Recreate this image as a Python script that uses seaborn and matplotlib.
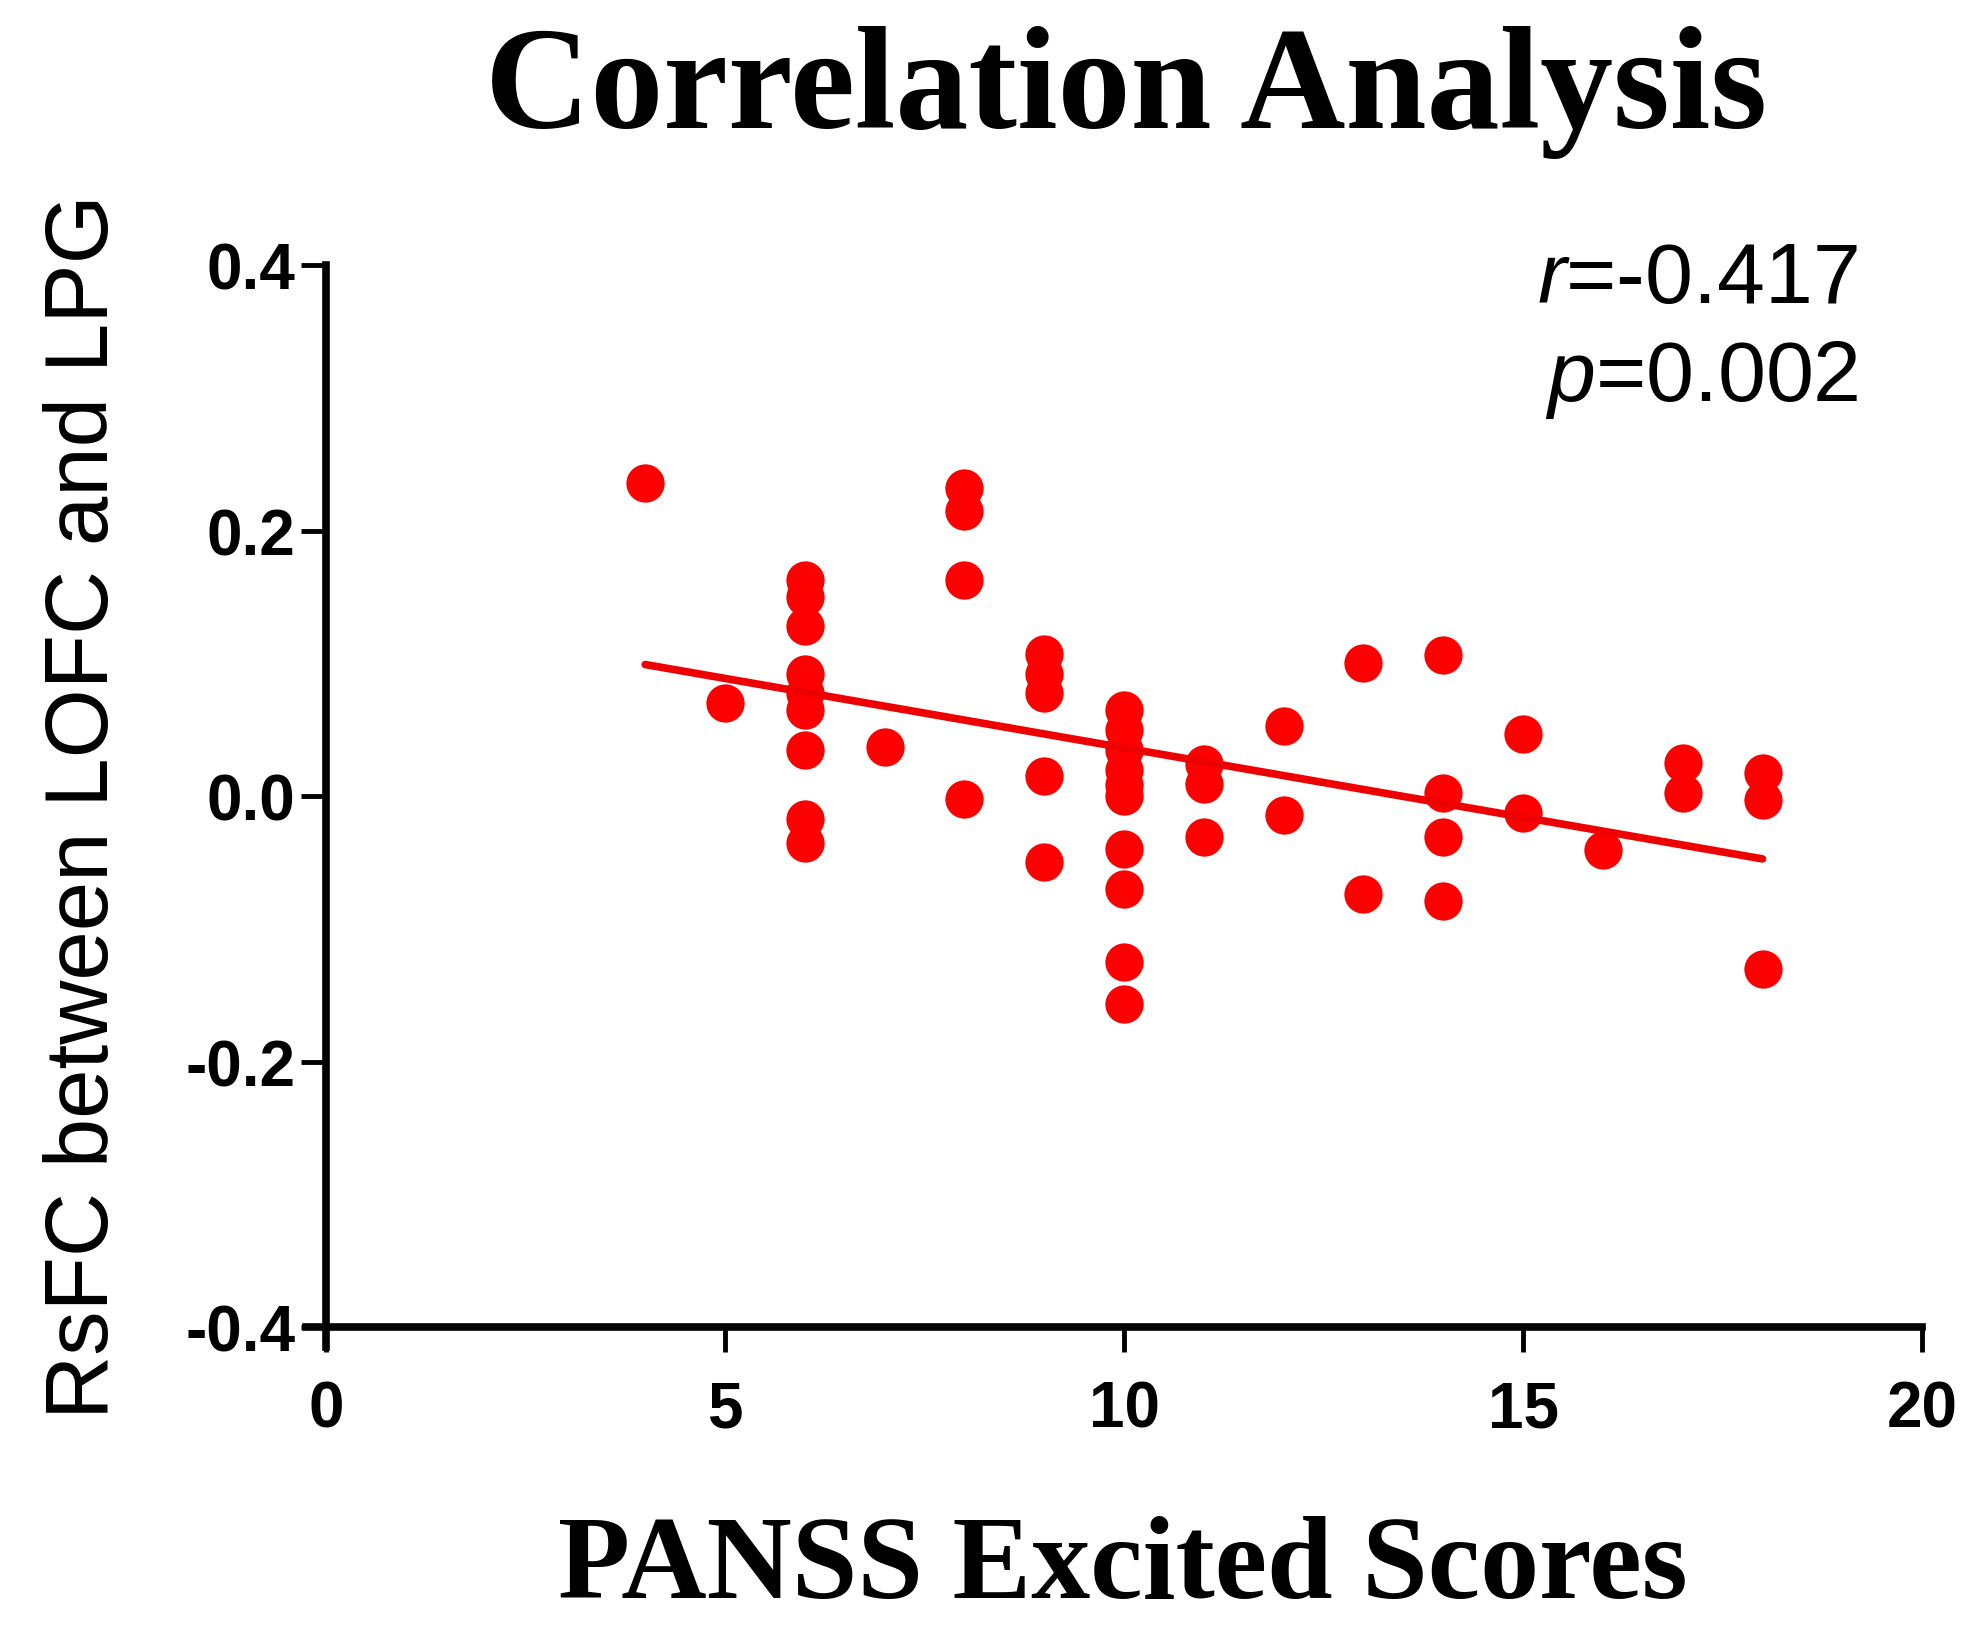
import pandas as pd
import matplotlib
matplotlib.use("Agg")
import matplotlib.pyplot as plt
import seaborn as sns

# PANSS excited scores and RsFC values
scores = [4,
          5,
          6, 6, 6, 6, 6, 6, 6, 6, 6,
          7,
          8, 8, 8, 8,
          9, 9, 9, 9, 9,
          10, 10, 10, 10, 10, 10, 10, 10, 10, 10,
          11, 11, 11,
          12, 12,
          13, 13,
          14, 14, 14, 14,
          15, 15,
          16,
          17, 17,
          18, 18, 18]
rsfc = [0.236,
        0.070,
        0.163, 0.150, 0.128, 0.092, 0.078, 0.065, 0.035, -0.017, -0.035,
        0.037,
        0.232, 0.215, 0.163, -0.002,
        0.107, 0.092, 0.078, 0.015, -0.050,
        0.065, 0.050, 0.035, 0.020, 0.008, 0.000, -0.040, -0.070, -0.125, -0.157,
        0.024, 0.009, -0.031,
        0.053, -0.014,
        0.100, -0.074,
        0.106, 0.002, -0.031, -0.079,
        0.047, -0.013,
        -0.041,
        0.025, 0.002,
        0.017, -0.003, -0.130]

xticks = [0, 5, 10, 15, 20]
yticks = [-0.4, -0.2, 0.0, 0.2, 0.4]

data = pd.DataFrame({"score": scores, "rsfc": rsfc})

sns.set_style("ticks")
plt.rcParams['font.family'] = ['Liberation Sans', 'DejaVu Sans']
plt.rcParams['mathtext.fontset'] = 'custom'
plt.rcParams['mathtext.it'] = 'Liberation Sans:italic'
plt.rcParams['mathtext.rm'] = 'Liberation Sans'
plt.rcParams['text.color'] = 'black'
plt.rcParams['axes.labelcolor'] = 'black'
plt.rcParams['xtick.color'] = 'black'
plt.rcParams['ytick.color'] = 'black'
plt.rcParams['axes.edgecolor'] = 'black'

fig = plt.figure(figsize=(19.83, 16.31), dpi=100)
ax = fig.add_axes([0.1644, 0.1735, 0.8049, 0.6634])

sns.regplot(x="score", y="rsfc", data=data, ax=ax, ci=None,
            scatter_kws={"s": 760, "color": "#ff0000", "alpha": 1, "linewidths": 0},
            line_kws={"color": "#ee0000", "linewidth": 5.5})

ax.set_xlim(0, 20)
ax.set_ylim(-0.415, 0.4)
ax.spines['top'].set_visible(False)
ax.spines['right'].set_visible(False)
ax.spines['bottom'].set_position(('data', -0.4))
ax.spines['left'].set_bounds(-0.415, 0.4)
ax.spines['bottom'].set_bounds(-0.25, 20)
for s in ['left', 'bottom']:
    ax.spines[s].set_linewidth(5.5)

ax.set_xticks(xticks)
ax.set_yticks(yticks)
ax.set_xticklabels([str(t) for t in xticks])
ax.set_yticklabels(["%.1f" % t for t in yticks])
ax.tick_params(axis='both', length=18, width=3.5, labelsize=46)
ax.tick_params(axis='y', pad=4)
ax.tick_params(axis='x', pad=20)
for lab in ax.get_xticklabels() + ax.get_yticklabels():
    lab.set_fontweight("bold")

ax.set_xlabel("")
ax.set_ylabel("RsFC between LOFC and LPG", fontsize=64, labelpad=42)
fig.text(0.568, 0.943, "Correlation Analysis", family="Liberation Serif",
         fontweight="bold", fontsize=105, ha="center", va="center")
fig.text(0.566, 0.038, "PANSS Excited Scores", family="Liberation Serif",
         fontweight="bold", fontsize=85, ha="center", va="center")

ax.text(0.96, 0.986, "$r$=-0.417", transform=ax.transAxes, ha="right", va="center",
        fontsize=62)
ax.text(0.96, 0.895, "$p$=0.002", transform=ax.transAxes, ha="right", va="center",
        fontsize=62)

fig.savefig("out.png", dpi=100)
